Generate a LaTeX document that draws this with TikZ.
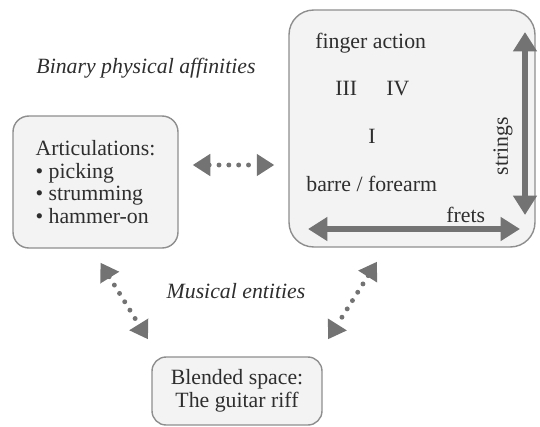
\documentclass[tikz,border=0pt]{standalone}
\usepackage{fontspec}
\setmainfont{Liberation Serif}
\usepackage{tikz}
\usetikzlibrary{arrows.meta, positioning}
\definecolor{boxgray}{HTML}{F3F3F3}
\definecolor{linegray}{HTML}{8E8E8E}
\definecolor{arrowgray}{HTML}{737373}
\definecolor{textgray}{HTML}{2E2E2E}

\begin{document}
\begin{tikzpicture}[x=0.02cm,y=-0.02cm,
    blendbox/.style={draw=linegray,line width=0.8pt,fill=boxgray,text=textgray,font=\fontsize{12.4}{13}\selectfont},
    lbl/.style={text=textgray,font=\fontsize{12.4}{13}\selectfont,inner sep=0pt},
    dotarrow/.style={draw=arrowgray,line width=2.8pt,line cap=round,dash pattern=on 0pt off 5.6pt,
      {Triangle[width=12pt,length=10pt,fill=arrowgray]}-{Triangle[width=12pt,length=10pt,fill=arrowgray]}},
    axisarrow/.style={draw=arrowgray,line width=3.4pt,
      {Triangle[width=13pt,length=11pt,fill=arrowgray]}-{Triangle[width=13pt,length=11pt,fill=arrowgray]}}]
  \useasboundingbox(0,0)rectangle(540,426);
  % the three spaces
  \node[blendbox,rounded corners=9pt,minimum width=3.3cm,minimum height=2.64cm,align=left](artic)at(95.5,182)
    {Articulations:\\ \textbullet\ picking\\ \textbullet\ strumming\\ \textbullet\ hammer-on};
  \node[blendbox,rounded corners=14pt,minimum width=4.92cm,minimum height=4.74cm](fret)at(412,128.5){};
  \node[blendbox,rounded corners=8pt,minimum width=3.4cm,minimum height=1.36cm,align=center](riff)at(237,391)
    {Blended space:\\The guitar riff};
  % fretboard labels
  \node[lbl,anchor=base west](finger)at(315,48){finger action};
  \node[lbl,anchor=base west](three)at(335,95){III};
  \node[lbl,anchor=base west](four)at(386,95){IV};
  \node[lbl,anchor=base west](one)at(368,143){I};
  \node[lbl,anchor=base west](barre)at(306,191){barre / forearm};
  \node[lbl,anchor=base west](frets)at(446,222){frets};
  \node[lbl,rotate=90](strings)at(503,146){strings};
  \coordinate(stop)at(525,32);
  \coordinate(sbot)at(525,215);
  \coordinate(fleft)at(308,229);
  \coordinate(fright)at(520,229);
  \draw[axisarrow](stop)--(sbot);
  \draw[axisarrow](fleft)--(fright);
  % relations
  \node[lbl,font=\fontsize{12.4}{13}\selectfont\itshape](binary)at(146,68){Binary physical affinities};
  \node[lbl,font=\fontsize{12.4}{13}\selectfont\itshape](musical)at(236,291){Musical entities};
  \draw[dotarrow]([shift={(14,-17)}]artic.east)--([shift={(-14,36.5)}]fret.west);
  \draw[dotarrow]([shift={(5,14)}]artic.south)--([shift={(-89,-17)}]riff.north);
  \draw[dotarrow]([shift={(-35,14)}]fret.south)--([shift={(91,-17)}]riff.north);
\end{tikzpicture}
\end{document}
